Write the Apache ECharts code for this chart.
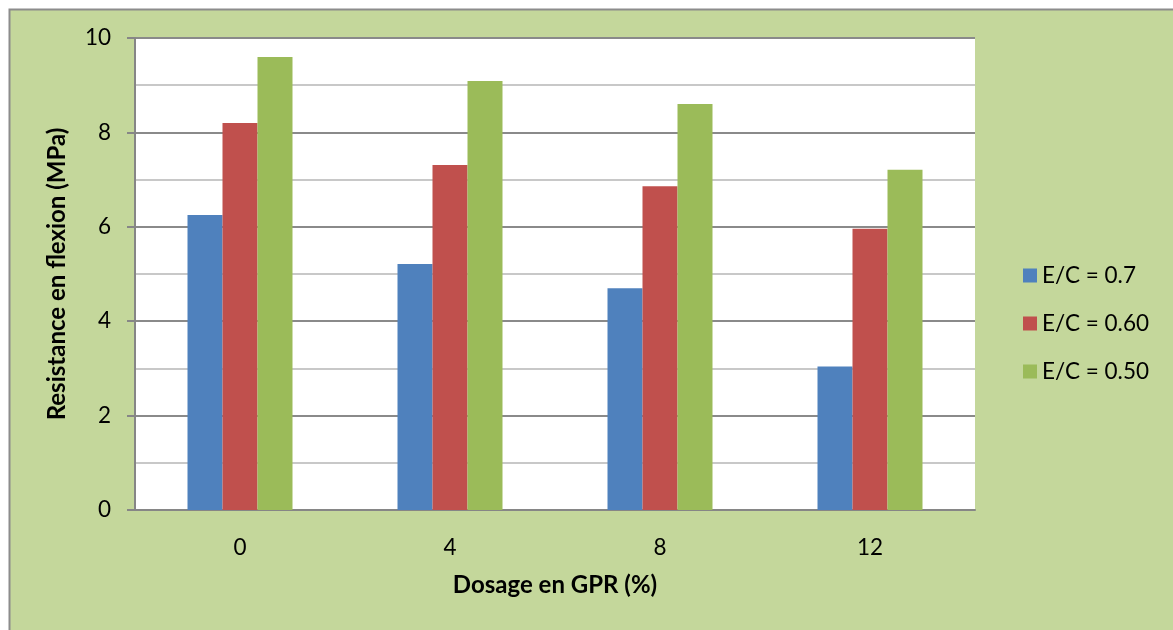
<!DOCTYPE html>
<html><head><meta charset="utf-8">
<script src="https://cdn.jsdelivr.net/npm/echarts@6/dist/echarts.min.js"></script>
<style>html,body{margin:0;padding:0;background:#fff}#c{width:1173px;height:630px}</style>
</head><body><div id="c"></div>
<script>
const categories = ['0', '4', '8', '12'];
const seriesNames = ['E/C = 0.7', 'E/C = 0.60', 'E/C = 0.50'];
const ec070 = [6.25, 5.21, 4.70, 3.04];
const ec060 = [8.20, 7.31, 6.86, 5.96];
const ec050 = [9.60, 9.09, 8.60, 7.21];
const colors = ['#4f81bd', '#c0504d', '#9bbb59'];
const FONT = 'Lato';

const chart = echarts.init(document.getElementById('c'), null, {renderer: 'canvas'});
const mk = (name, data, color) => ({
  name, type: 'bar', data, barGap: '0%', barCategoryGap: '50%',
  itemStyle: {color}, emphasis: {disabled: true}
});
chart.setOption({
  animation: false,
  backgroundColor: '#ffffff',
  graphic: [{
    type: 'rect', z: -10, silent: true,
    shape: {x: 9.5, y: 9.5, width: 1200, height: 700},
    style: {fill: '#c4d79b', stroke: '#8c8c8c', lineWidth: 2}
  }, {
    type: 'rect', z: -9, silent: true,
    shape: {x: 135, y: 38, width: 840, height: 472},
    style: {fill: '#ffffff'}
  }],
  textStyle: {fontFamily: FONT},
  grid: {left: 135, right: 198, top: 38, bottom: 120, containLabel: false},
  legend: {
    orient: 'vertical', left: 1018, top: 259, itemWidth: 14, itemHeight: 14, itemGap: 25,
    icon: 'rect',
    textStyle: {fontFamily: FONT, fontSize: 22.5, color: '#000'},
    data: seriesNames
  },
  xAxis: {
    type: 'category', data: categories,
    name: 'Dosage en GPR (%)', nameLocation: 'middle', nameGap: 63,
    nameTextStyle: {fontFamily: FONT, fontSize: 24, fontWeight: 'bold', color: '#000'},
    axisLine: {lineStyle: {color: '#868686', width: 2}},
    axisTick: {show: false},
    axisLabel: {fontFamily: FONT, fontSize: 22.5, color: '#000', margin: 26}
  },
  yAxis: {
    type: 'value', min: 0, max: 10, interval: 2,
    name: 'Resistance en flexion (MPa)', nameLocation: 'middle', nameGap: 66,
    nameTextStyle: {fontFamily: FONT, fontSize: 24, fontWeight: 'bold', color: '#000'},
    axisLine: {show: true, lineStyle: {color: '#868686', width: 2}},
    axisTick: {show: true, length: 8, lineStyle: {color: '#868686', width: 2}},
    axisLabel: {fontFamily: FONT, fontSize: 22.5, color: '#000', margin: 24},
    splitLine: {lineStyle: {color: '#8a8a8a', width: 2}},
    minorTick: {show: false, splitNumber: 2},
    minorSplitLine: {show: true, lineStyle: {color: '#c8c8c8', width: 2}}
  },
  series: [mk(seriesNames[0], ec070, colors[0]), mk(seriesNames[1], ec060, colors[1]), mk(seriesNames[2], ec050, colors[2])]
});
</script></body></html>
